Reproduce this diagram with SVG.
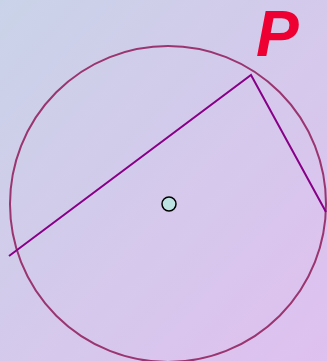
<svg xmlns="http://www.w3.org/2000/svg" width="327" height="361" viewBox="0 0 327 361">
<defs>
<linearGradient id="bg" x1="0" y1="0" x2="1" y2="1">
<stop offset="0" stop-color="#c9d3e8"/>
<stop offset="1" stop-color="#dfc0ef"/>
</linearGradient>
<style>
.circ{fill:none;stroke:#9a3570;stroke-width:2}
.chord{fill:none;stroke:#880088;stroke-width:2}
.dot{fill:#bde3e3;stroke:#000;stroke-width:1.5}
.lbl{font-family:"Liberation Sans",Arial,sans-serif;font-weight:bold;font-style:italic;font-size:64px;fill:#ee0033}
</style>
</defs>
<rect width="327" height="361" fill="url(#bg)"/>
<g id="circle"><circle class="circ" cx="168" cy="204" r="158"/></g>
<g id="connectors">
<polyline class="chord" points="9,256 251,75 326,212"/>
</g>
<g id="center"><circle class="dot" cx="169" cy="204" r="7"/></g>
<g id="label"><text class="lbl" x="256" y="56">P</text></g>
</svg>
